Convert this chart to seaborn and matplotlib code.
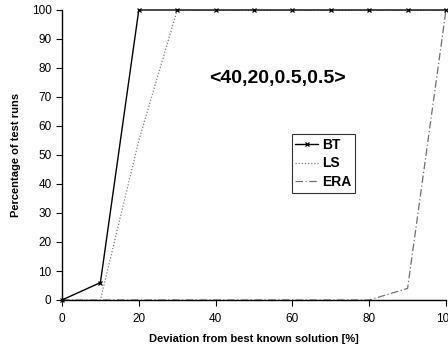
import matplotlib
matplotlib.use("Agg")
import matplotlib.pyplot as plt
import seaborn as sns
import pandas as pd

x_vals = [0, 10, 20, 30, 40, 50, 60, 70, 80, 90, 100]
bt = [0, 6, 100, 100, 100, 100, 100, 100, 100, 100, 100]
ls = [0, 0, 55, 100, 100, 100, 100, 100, 100, 100, 100]
era = [0, 0, 0, 0, 0, 0, 0, 0, 0, 4, 100]
x_ticks = [0, 20, 40, 60, 80, 100]
y_ticks = [0, 10, 20, 30, 40, 50, 60, 70, 80, 90, 100]
title_text = "<40,20,0.5,0.5>"

sns.set_style("ticks")
plt.rcParams['font.family'] = ['Liberation Sans', 'DejaVu Sans']
plt.rcParams['text.color'] = 'black'
plt.rcParams['axes.labelcolor'] = 'black'

fig = plt.figure(figsize=(4.48, 3.5), dpi=100)
ax = fig.add_axes([62/448, 50/350, 384/448, 290/350])

df = pd.DataFrame({"x": x_vals, "BT": bt, "LS": ls, "ERA": era})

sns.lineplot(data=df, x="x", y="ERA", ax=ax, color="#707070", lw=0.9,
             linestyle=(0, (6, 2, 1, 2)), label="ERA", zorder=2)
sns.lineplot(data=df, x="x", y="LS", ax=ax, color="#808080", lw=0.9,
             linestyle=(0, (1, 1.5)), label="LS", zorder=3)
sns.lineplot(data=df, x="x", y="BT", ax=ax, color="black", lw=1.0,
             marker="x", markersize=3, markeredgewidth=0.9,
             markeredgecolor="black", markerfacecolor="black",
             label="BT", zorder=4, clip_on=False)

ax.set_xlim(0, 100)
ax.set_ylim(0, 100)
ax.set_xticks(x_ticks)
ax.set_yticks(y_ticks)
ax.tick_params(labelsize=8.5, length=4, width=0.8, direction="out", colors="black")
ax.tick_params(axis="x", pad=5)
for s in ["left", "bottom"]:
    ax.spines[s].set_color("black")
    ax.spines[s].set_linewidth(1.0)
sns.despine(ax=ax)

ax.set_xlabel("Deviation from best known solution [%]", fontsize=8, fontweight="bold", labelpad=7)
ax.set_ylabel("Percentage of test runs", fontsize=8, fontweight="bold", labelpad=8)

ax.text(56, 76.5, title_text, fontsize=14, fontweight="bold", ha="center", va="center",
        color="black")

handles, labels = ax.get_legend_handles_labels()
order = [labels.index(l) for l in ["BT", "LS", "ERA"]]
leg = ax.legend([handles[i] for i in order], [labels[i] for i in order],
                loc="upper left", bbox_to_anchor=(0.599, 0.572),
                prop={"weight": "bold", "size": 10}, frameon=True, fancybox=False,
                edgecolor="black", handlelength=1.6, handletextpad=0.3,
                borderpad=0.25, labelspacing=0.35, borderaxespad=0)
leg.get_frame().set_linewidth(0.8)
for t in leg.get_texts():
    t.set_color("black")

fig.savefig("out.png", dpi=100)
